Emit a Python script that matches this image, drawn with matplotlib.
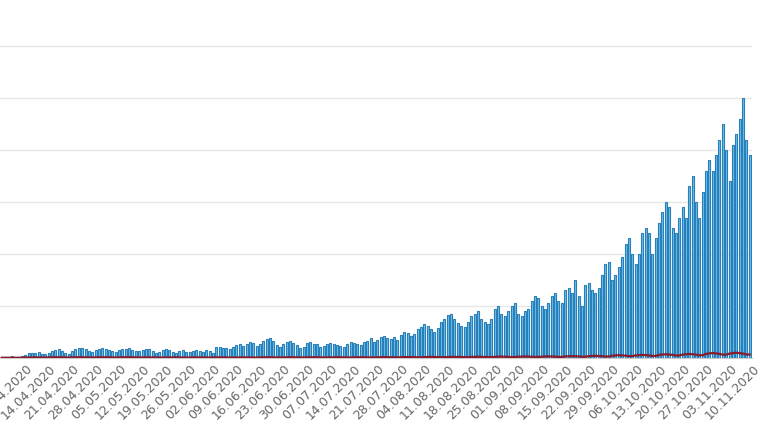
import matplotlib
matplotlib.use("Agg")
import matplotlib.pyplot as plt
import numpy as np
import datetime as dt

start = dt.date(2020, 4, 6)
cases = [
0.01,0.02,0.01,0.03,0.02,0.01,0.04,
0.06,0.09,0.10,0.09,0.11,0.08,0.07,
0.10,0.14,0.15,0.17,0.13,0.09,0.08,
0.14,0.18,0.20,0.19,0.17,0.13,0.12,
0.15,0.17,0.19,0.18,0.16,0.14,0.12,
0.16,0.18,0.18,0.19,0.15,0.13,0.14,
0.16,0.17,0.18,0.14,0.10,0.12,0.16,
0.17,0.16,0.12,0.10,0.13,0.15,0.12,
0.11,0.14,0.16,0.13,0.12,0.15,0.14,
0.10,0.21,0.22,0.20,0.19,0.17,0.22,
0.25,0.27,0.24,0.26,0.30,0.28,0.24,
0.26,0.32,0.36,0.38,0.33,0.25,0.22,
0.27,0.30,0.33,0.28,0.25,0.20,0.22,
0.28,0.30,0.27,0.26,0.22,0.23,0.27,
0.28,0.26,0.25,0.23,0.21,0.27,0.30,
0.29,0.27,0.25,0.30,0.33,0.38,0.30,
0.34,0.40,0.42,0.38,0.37,0.40,0.35,
0.45,0.50,0.48,0.42,0.46,0.55,0.60,
0.65,0.62,0.55,0.50,0.58,0.70,0.75,
0.82,0.85,0.75,0.68,0.62,0.60,0.70,
0.80,0.85,0.90,0.75,0.70,0.65,0.75,
0.95,1.00,0.85,0.80,0.90,1.00,1.05,
0.85,0.80,0.90,0.95,1.10,1.20,1.15,
1.00,0.95,1.05,1.20,1.25,1.10,1.05,
1.30,1.35,1.25,1.50,1.20,1.00,1.40,
1.45,1.30,1.25,1.35,1.60,1.80,1.85,
1.50,1.60,1.75,1.95,2.20,2.30,2.00,
1.80,2.00,2.40,2.50,2.40,2.00,2.30,
2.60,2.80,3.00,2.90,2.50,2.40,2.70,
2.90,2.70,3.30,3.50,3.00,2.70,3.20,
3.60,3.80,3.60,3.90,4.20,4.50,4.00,
3.40,4.10,4.30,4.60,5.00,4.20,3.90,
]
deaths_weekly = [0.005,0.01,0.012,0.012,0.012,0.012,0.01,0.01,0.01,0.01,0.01,0.012,
                 0.012,0.012,0.012,0.012,0.014,0.015,0.017,0.018,0.02,0.022,0.024,0.026,
                 0.03,0.035,0.045,0.05,0.06,0.065,0.08,0.085]
deaths_pattern = [1.0,1.1,1.2,1.1,1.0,0.8,0.8]
deaths = [w * p for w in deaths_weekly for p in deaths_pattern]

n = len(cases)
x = np.arange(n)
dates = [start + dt.timedelta(days=i) for i in range(n)]

fig = plt.figure(figsize=(7.7, 4.32), dpi=100)
ax = fig.add_axes([0.0, 74/432, 752/770, 1 - 74/432])
ax.bar(x, cases, width=0.6, color="#6cc0ea", edgecolor="#2a7fb8", linewidth=0.8, zorder=2)
ax.plot(x, deaths, color="#8b1a2b", lw=1.6, zorder=3)
ax.set_xlim(-0.5, n - 0.3)
ax.set_ylim(0, 358/52)
ax.set_yticks([1, 2, 3, 4, 5, 6])
ax.yaxis.grid(True, color="#e8e8e8", lw=1, zorder=0)
ax.tick_params(axis="y", length=0, labelleft=False)
for s in ["top", "right", "left"]:
    ax.spines[s].set_visible(False)
ax.spines["bottom"].set_color("#cccccc")
ticks = list(range(1, n, 7))
ax.set_xticks(ticks)
ax.set_xticklabels([dates[i].strftime("%d.%m.%Y") for i in ticks], rotation=45,
                   ha="center", fontsize=9, color="#666666")
ax.tick_params(axis="x", length=0, pad=3)
fig.savefig("out.png", dpi=100)
